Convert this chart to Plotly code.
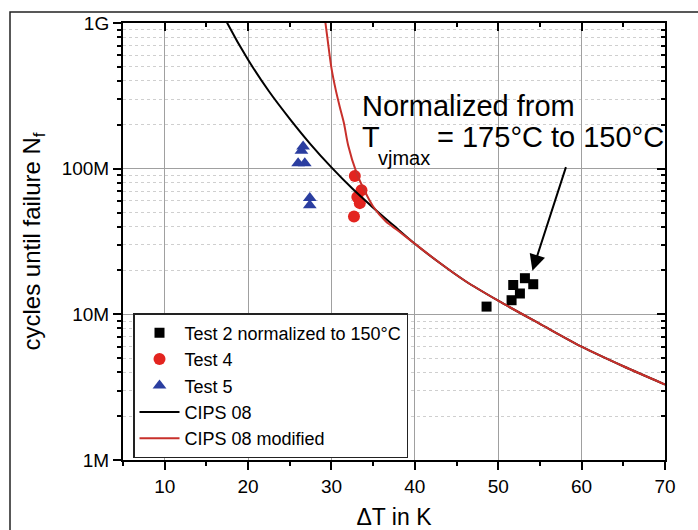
import plotly.graph_objects as go

# ---------------- data ----------------
test2_dT = [48.6, 51.8, 53.2, 54.2, 52.6, 51.6]
test2_N = [1.13e7, 1.59e7, 1.77e7, 1.61e7, 1.39e7, 1.25e7]

test4_dT = [32.8, 33.6, 33.1, 33.4, 32.7]
test4_N = [8.9e7, 7.1e7, 6.4e7, 5.8e7, 4.7e7]

test5_dT = [26.6, 26.4, 26.0, 26.8, 27.4, 27.4]
test5_N = [1.42e8, 1.33e8, 1.09e8, 1.09e8, 6.3e7, 5.6e7]

cips_dT = [17.0, 17.5, 20.0, 22.5, 25.0, 27.5, 30.0, 32.5, 35.0, 37.5, 40.0,
           43.0, 46.0, 50.0, 55.0, 60.0, 65.0, 70.0]
cips_N = [1.15e9, 1.0e9, 5.6e8, 3.4e8, 2.2e8, 1.47e8, 1.02e8, 7.3e7, 5.4e7,
          4.05e7, 3.05e7, 2.25e7, 1.7e7, 1.24e7, 8.6e6, 6.0e6, 4.4e6, 3.3e6]

mod_dT = [29.1, 29.5, 30.0, 30.5, 31.0, 31.5, 32.0, 33.0, 34.0, 35.0, 36.5,
          38.0, 40.0, 43.0, 46.0, 50.0, 55.0, 60.0, 65.0, 70.0]
mod_N = [1.2e9, 8.0e8, 4.9e8, 3.5e8, 2.65e8, 2.05e8, 1.45e8, 9.4e7, 7.0e7,
         5.5e7, 4.35e7, 3.75e7, 3.05e7, 2.25e7, 1.7e7, 1.24e7, 8.6e6, 6.0e6,
         4.4e6, 3.3e6]

x_ticks = [10, 20, 30, 40, 50, 60, 70]
y_tickvals = [1e6, 1e7, 1e8, 1e9]
y_ticktext = ["1M", "10M", "100M", "1G"]

legend_names = ["Test 2 normalized to 150°C", "Test 4", "Test 5",
                "CIPS 08", "CIPS 08 modified"]

FONT = "Liberation Sans, Arial, sans-serif"

# plot area in pixels (for placing layout items in paper coordinates)
L, R, T, B = 123, 665, 23, 460


def px(xp):
    return (xp - L) / (R - L)


def py(yp):
    return (B - yp) / (B - T)


fig = go.Figure()

fig.add_trace(go.Scatter(x=test2_dT, y=test2_N, mode="markers", name=legend_names[0],
                         marker=dict(symbol="square", size=10, color="black"),
                         legendrank=1))
fig.add_trace(go.Scatter(x=test4_dT, y=test4_N, mode="markers", name=legend_names[1],
                         marker=dict(symbol="circle", size=12, color="#e3241f"),
                         legendrank=2))
fig.add_trace(go.Scatter(x=test5_dT, y=test5_N, mode="markers", name=legend_names[2],
                         marker=dict(symbol="triangle-up", size=12, color="#2b3ea0"),
                         legendrank=3))
fig.add_trace(go.Scatter(x=cips_dT, y=cips_N, mode="lines", name=legend_names[3],
                         line=dict(color="black", width=2, shape="spline", smoothing=0.8),
                         legendrank=4))
fig.add_trace(go.Scatter(x=mod_dT, y=mod_N, mode="lines", name=legend_names[4],
                         line=dict(color="#c8302b", width=2, shape="spline", smoothing=0.8),
                         legendrank=5))
# dummy trace for mirrored (top/right) axes with inward ticks
fig.add_trace(go.Scatter(x=[None], y=[None], xaxis="x2", yaxis="y2",
                         showlegend=False, hoverinfo="skip"))

grid_major = "#a0a0a0"
grid_minor = "#cfcfcf"

fig.update_layout(
    width=698, height=530,
    margin=dict(l=L, r=698 - R, t=T, b=530 - B),
    paper_bgcolor="white", plot_bgcolor="white",
    font=dict(family=FONT, color="black", size=19),
    showlegend=True,
    legend=dict(x=px(133), y=py(313), xanchor="left", yanchor="top",
                bgcolor="white", bordercolor="#222", borderwidth=1.5,
                font=dict(family=FONT, size=18, color="black"),
                itemwidth=40, tracegroupgap=0),
    xaxis=dict(range=[5, 70], tickvals=x_ticks, ticks="outside", ticklen=8,
               tickwidth=1.5, tickcolor="black", showline=True, linecolor="black",
               linewidth=2, showgrid=True, gridcolor=grid_major, gridwidth=1,
               zeroline=False, tickfont=dict(size=19), automargin=False,
               minor=dict(dtick=5, tick0=0, ticks="outside", ticklen=4,
                          tickcolor="black", tickwidth=1.5, showgrid=False),
               title=dict(text="ΔT in K", font=dict(size=23), standoff=16)),
    yaxis=dict(type="log", range=[6, 9], tickvals=y_tickvals, ticktext=y_ticktext,
               ticks="outside", ticklen=8, tickwidth=1.5, tickcolor="black",
               showline=True, linecolor="black", linewidth=2,
               showgrid=True, gridcolor=grid_major, gridwidth=1, zeroline=False,
               tickfont=dict(size=19), automargin=False,
               minor=dict(dtick="D1", ticks="outside", ticklen=4, tickcolor="black",
                          tickwidth=1.5, showgrid=True, gridcolor=grid_minor,
                          griddash="dot", gridwidth=1),
               title=dict(text="cycles until failure N<sub>f</sub>",
                          font=dict(size=24), standoff=14)),
    xaxis2=dict(overlaying="x", side="top", anchor="y", range=[5, 70],
                tickvals=x_ticks, ticks="inside", ticklen=8, tickwidth=1.5,
                tickcolor="black", showticklabels=False, showline=True,
                linecolor="black", linewidth=2, showgrid=False, zeroline=False,
                automargin=False,
                minor=dict(dtick=5, tick0=0, ticks="inside", ticklen=4,
                           tickcolor="black", tickwidth=1.5, showgrid=False)),
    yaxis2=dict(overlaying="y", side="right", anchor="x", type="log", range=[6, 9],
                tickvals=y_tickvals, ticks="inside", ticklen=8, tickwidth=1.5,
                tickcolor="black", showticklabels=False, showline=True,
                linecolor="black", linewidth=2, showgrid=False, zeroline=False,
                automargin=False,
                minor=dict(dtick="D1", ticks="inside", ticklen=4, tickcolor="black",
                           tickwidth=1.5, showgrid=False)),
)

# annotation text, placed piece by piece
note_font = dict(family=FONT, size=29, color="black")
fig.add_annotation(xref="paper", yref="paper", x=px(360), y=py(106),
                   xanchor="left", yanchor="middle", showarrow=False,
                   text="Normalized from", font=note_font)
fig.add_annotation(xref="paper", yref="paper", x=px(360), y=py(137),
                   xanchor="left", yanchor="middle", showarrow=False,
                   text="T", font=note_font)
fig.add_annotation(xref="paper", yref="paper", x=px(376), y=py(158),
                   xanchor="left", yanchor="middle", showarrow=False,
                   text="vjmax", font=dict(family=FONT, size=20, color="black"))
fig.add_annotation(xref="paper", yref="paper", x=px(435), y=py(137),
                   xanchor="left", yanchor="middle", showarrow=False,
                   text="= 175°C to 150°C", font=note_font)

# arrow pointing at the Test 2 points
fig.add_annotation(x=54.1, y=7.30, xref="x", yref="y", text="",
                   showarrow=True, arrowhead=2, arrowsize=1.6, arrowwidth=2,
                   arrowcolor="black", ax=34, ay=-105)

# outer frame of the picture
fig.add_shape(type="rect", xref="paper", yref="paper",
              x0=px(10), x1=px(760), y0=py(560), y1=py(12),
              line=dict(color="#222", width=1.5), layer="below")

fig.write_html("out.html")
